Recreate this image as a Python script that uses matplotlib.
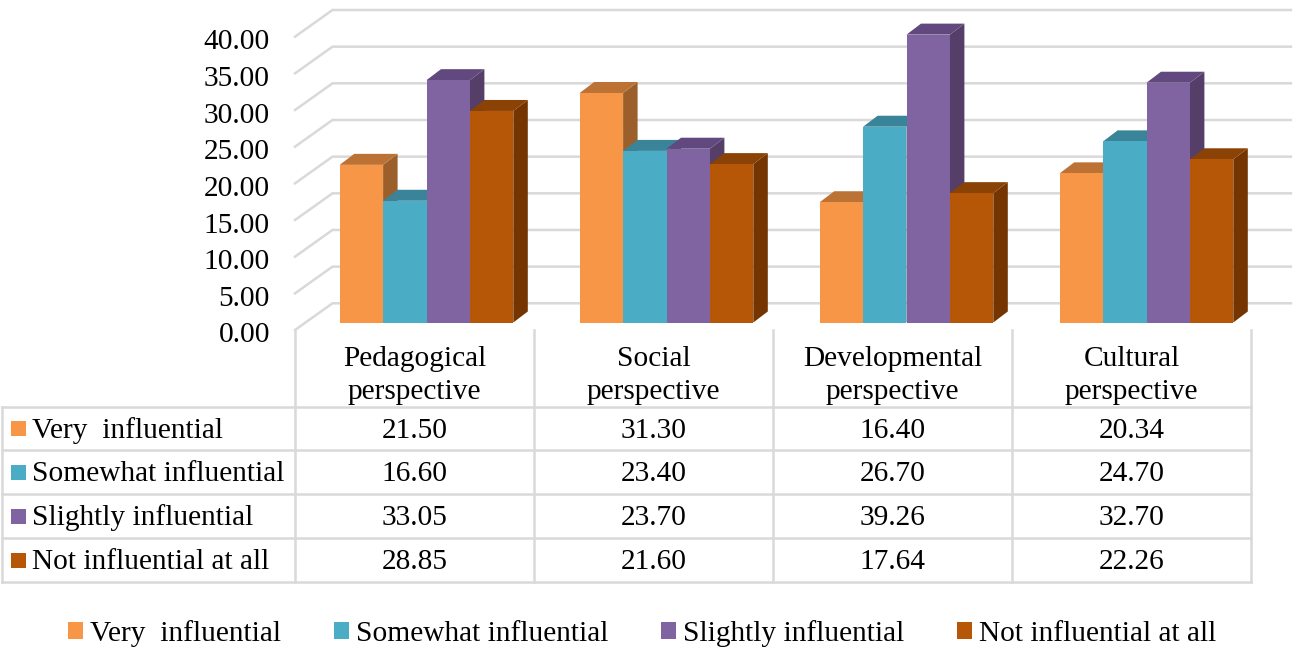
import matplotlib
matplotlib.use("Agg")
import matplotlib.pyplot as plt
from matplotlib.patches import Patch, Rectangle
from matplotlib.transforms import Affine2D

plt.rcParams['font.family'] = ['Liberation Serif', 'DejaVu Serif']

categories = ["Pedagogical\nperspective", "Social\nperspective", "Developmental\nperspective", "Cultural\nperspective"]
series_names = ["Very  influential", "Somewhat influential", "Slightly influential", "Not influential at all"]
very = [21.50, 31.30, 16.40, 20.34]
somewhat = [16.60, 23.40, 26.70, 24.70]
slightly = [33.05, 23.70, 39.26, 32.70]
not_at_all = [28.85, 21.60, 17.64, 22.26]
y_ticks = [0, 5, 10, 15, 20, 25, 30, 35, 40]

series = [very, somewhat, slightly, not_at_all]
front = ["#F79646", "#4BACC6", "#8064A2", "#B65708"]
top = ["#BC7235", "#3A8499", "#61497F", "#8A4205"]
side = ["#9B5F2C", "#2F6C7D", "#553F68", "#743500"]
GRID = "#D9D9D9"
FS = 21.2

W, H = 1298, 649
fig = plt.figure(figsize=(W / 100, H / 100), dpi=100)

def fx(p): return p / W
def fy(p): return 1 - p / H

AX_L, AX_R, AX_T, AX_B = 295, 1251, 36.7, 330
ax = fig.add_axes([fx(AX_L), fy(AX_B), fx(AX_R - AX_L), (AX_B - AX_T) / H])
ax.set_xlim(-0.5, 3.5)
ax.set_ylim(0, 40)
ax.patch.set_alpha(0)
for s in ax.spines.values():
    s.set_visible(False)

ppx = (AX_R - AX_L) / 4      # pixels per category
ppy = (AX_B - AX_T) / 40     # pixels per unit

# back wall gridlines with the receding left edge
wall_dx = 37.5 / ppx
wall_dy = 26.7 / ppy
wall_end = 3.667
for v in y_ticks:
    ax.plot([-0.5, -0.5 + wall_dx, wall_end], [v, v + wall_dy, v + wall_dy],
            color=GRID, lw=1.8, clip_on=False, zorder=1, solid_joinstyle='miter')

# 3D bars, left to right so that each one hides the previous side face
bar_w = 43.4 / ppx
dep_x = 14.5 / ppx
dep_y = 11 / ppy
step = 240 / ppx
shift = ax.transData + Affine2D().translate(12, 7.5)
z = 2
for c in range(len(categories)):
    for i, vals in enumerate(series):
        v = vals[c]
        x0 = c * step + (i - 2) * bar_w
        x1 = x0 + bar_w
        ax.fill([x1, x1 + dep_x, x1 + dep_x, x1], [0, dep_y, v + dep_y, v],
                color=side[i], lw=0, transform=shift, clip_on=False, zorder=z)
        ax.fill([x0, x0 + dep_x, x1 + dep_x, x1], [v, v + dep_y, v + dep_y, v],
                color=top[i], lw=0, transform=shift, clip_on=False, zorder=z)
        ax.bar(x0, v, bar_w, align='edge', color=front[i], lw=0,
               transform=shift, clip_on=False, zorder=z + 0.5)
        z += 1

ax.set_yticks(y_ticks)
ax.set_yticklabels([f"{v:.2f}" for v in y_ticks], fontsize=FS, color="#000000")
ax.tick_params(axis='y', length=0, pad=18)
down = Affine2D().translate(0, -2.5)
for t in ax.get_yticklabels():
    t.set_transform(t.get_transform() + down)
ax.set_xticks(range(len(categories)))
ax.set_xticklabels(categories, fontsize=FS, linespacing=1.34)
ax.tick_params(axis='x', length=0, pad=11.5)

# data table, laid out in figure pixels
tb = fig.add_axes([0, 0, 1, 1])
tb.set_xlim(0, W)
tb.set_ylim(H, 0)
tb.axis('off')
tb.patch.set_alpha(0)
rows = [406.7, 450.4, 494.3, 538.3, 582.4]
cols = [AX_L + k * ppx for k in range(5)]
for y in rows:
    tb.plot([2, AX_R], [y, y], color=GRID, lw=1.8, solid_capstyle='projecting')
tb.plot([2, 2], [rows[0], rows[-1]], color=GRID, lw=1.8)
for k, x in enumerate(cols):
    tb.plot([x, x], [AX_B, rows[-1]], color=GRID, lw=1.8)
for r, name in enumerate(series_names):
    yc = (rows[r] + rows[r + 1]) / 2
    tb.add_patch(Rectangle((11, yc - 7.5), 15, 15, color=front[r], lw=0))
    tb.text(32.5, yc + 1.5, name, fontsize=FS, va='center', ha='left')
    for c in range(len(categories)):
        tb.text(AX_L + (c + 0.5) * ppx, yc + 2, f"{series[r][c]:.2f}", fontsize=FS,
                va='center', ha='center')

handles = [Patch(color=front[i], lw=0, label=series_names[i]) for i in range(4)]
fig.legend(handles=handles, loc='center', bbox_to_anchor=(fx(642.5), fy(633.5)), ncol=4,
           frameon=False, fontsize=FS, handlelength=0.5, handleheight=0.5,
           handletextpad=0.24, columnspacing=1.8, borderpad=0, borderaxespad=0)

fig.savefig("out.png", dpi=100)
